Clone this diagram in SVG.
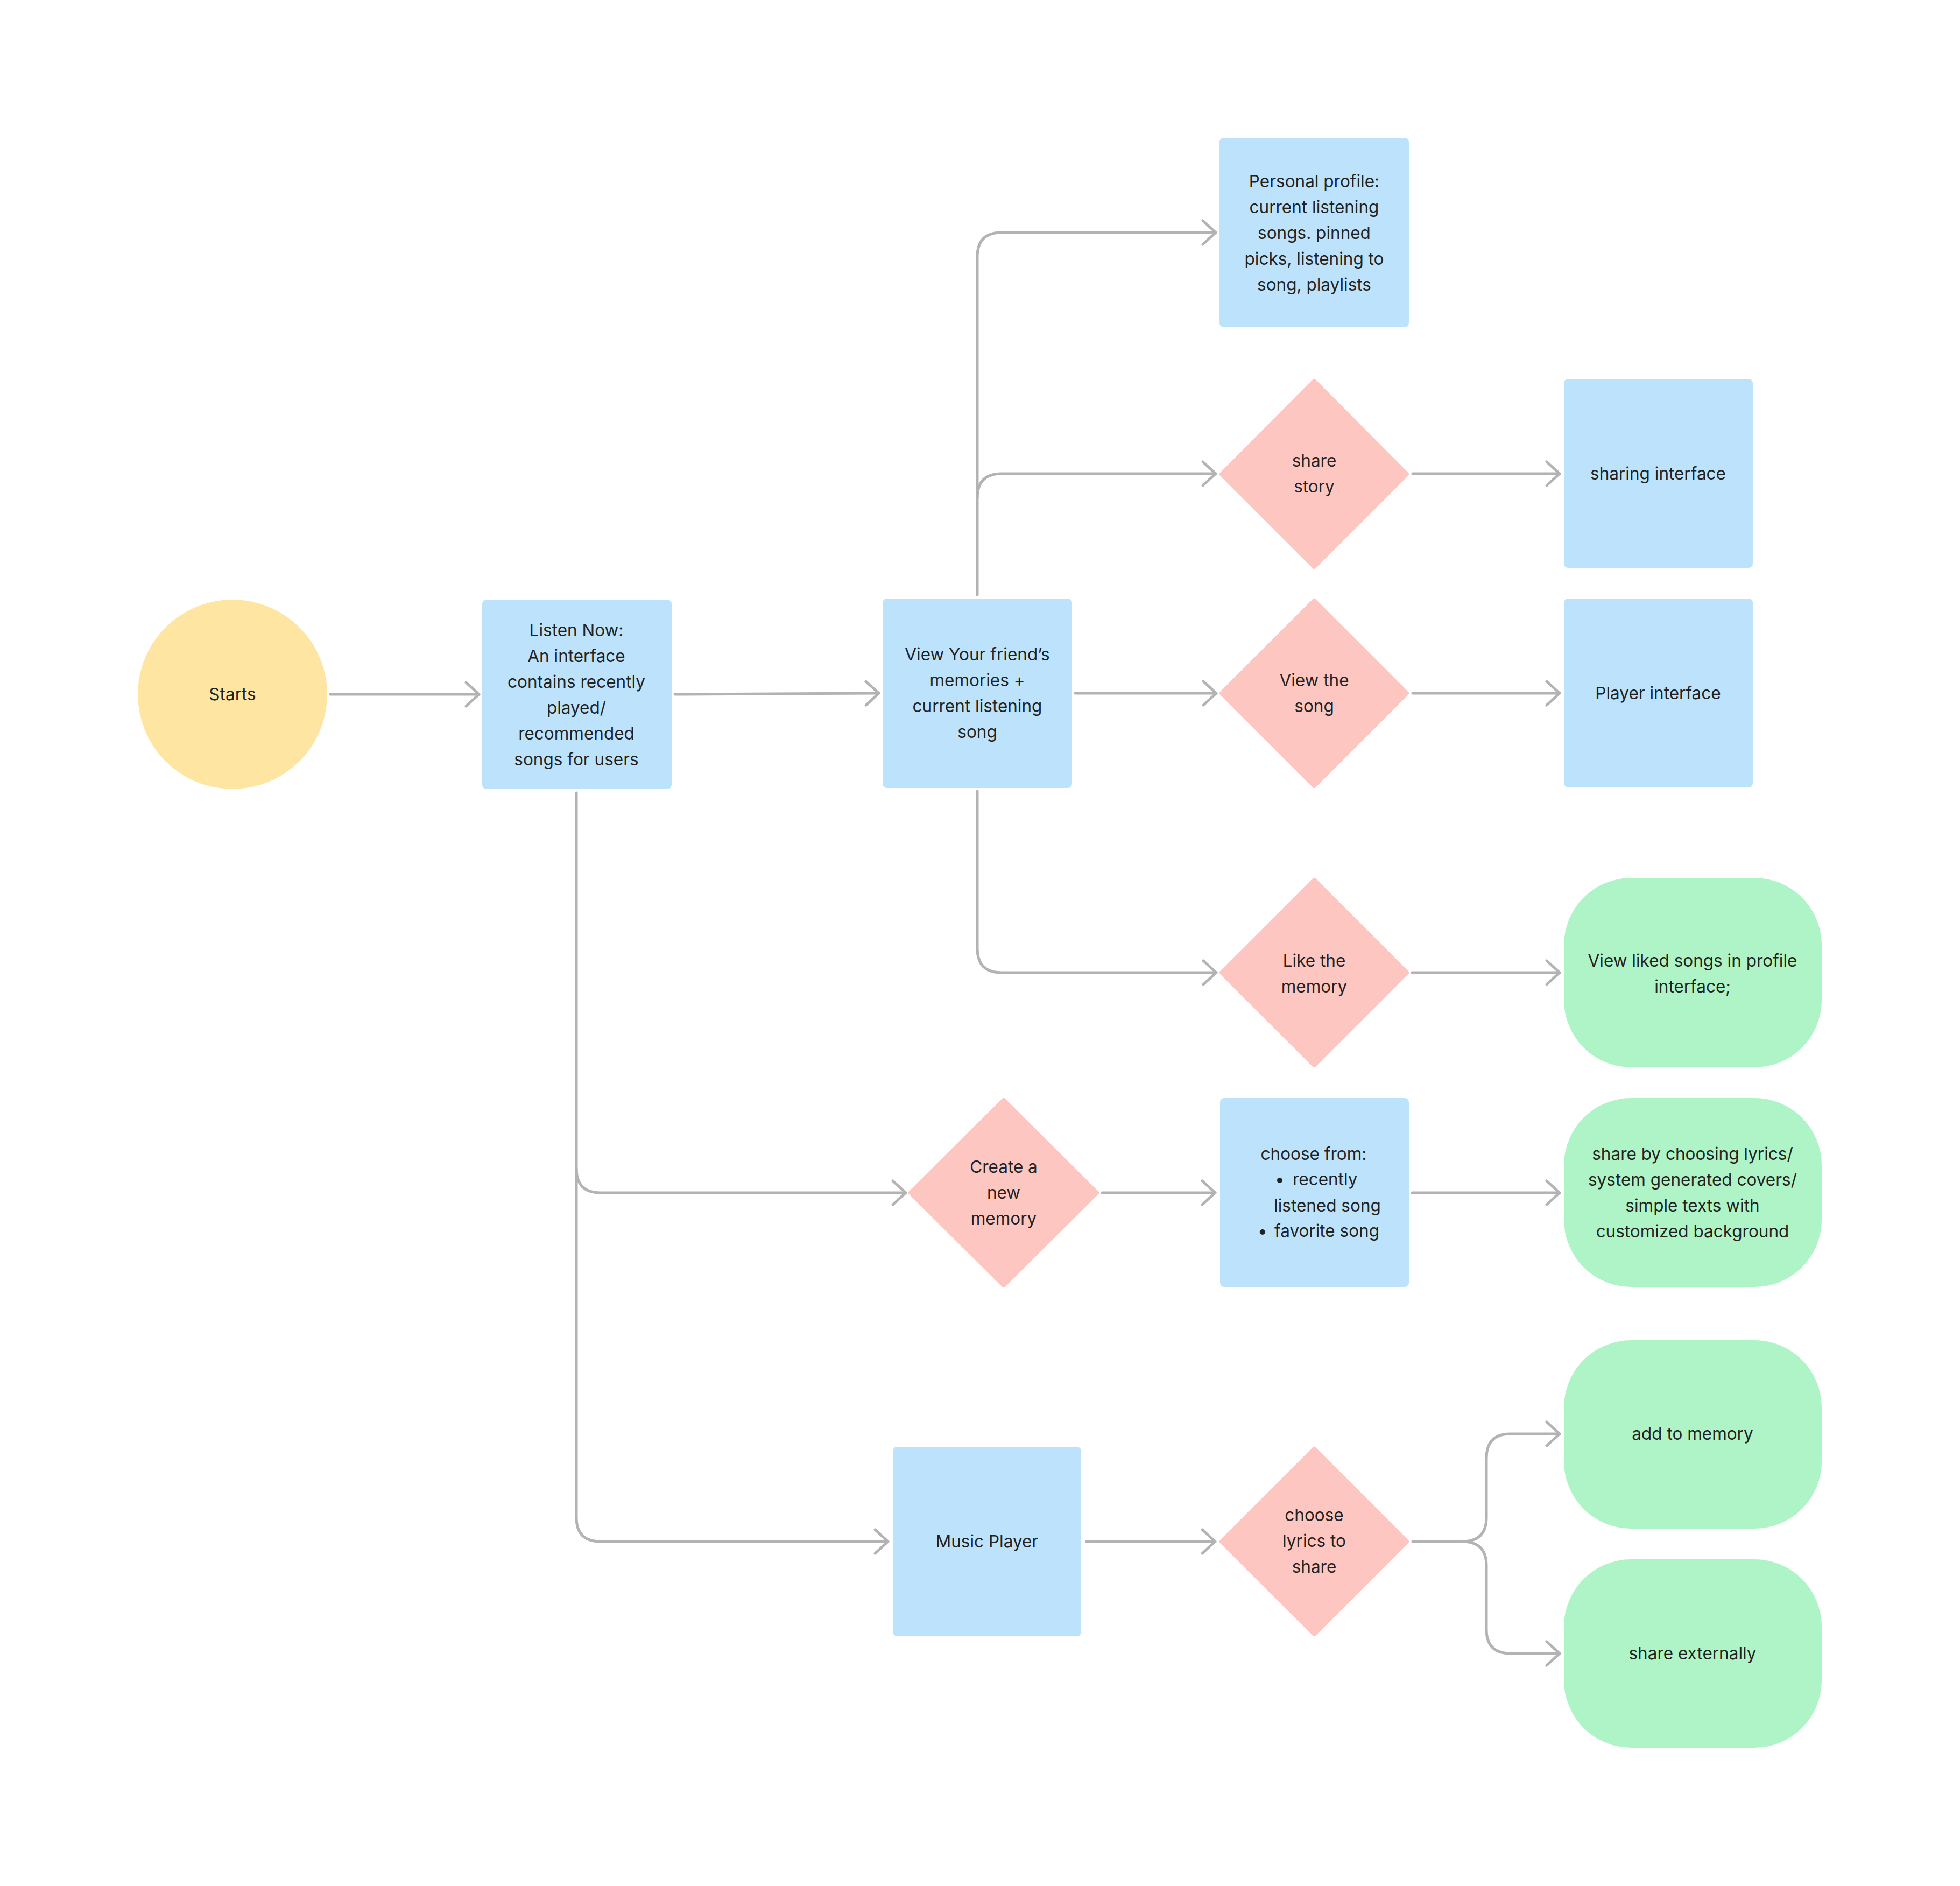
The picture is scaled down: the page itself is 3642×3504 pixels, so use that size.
<svg xmlns="http://www.w3.org/2000/svg" width="3642" height="3504" viewBox="0 0 3642 3504">
<style>
.t{font-family:Inter,"Noto Sans",sans-serif;font-size:31.5px;fill:#222222;text-anchor:middle}
.ts{font-family:Inter,"Noto Sans",sans-serif;font-size:31.5px;fill:#222222}
.box{fill:#BDE3FC}
.dia{fill:#FDC6C1;stroke:#FDC6C1;stroke-width:8;stroke-linejoin:round}
.term{fill:#AFF4C6}
.start{fill:#FEE6A2}
.c{fill:none;stroke:#B3B3B3;stroke-width:5;stroke-linecap:round;marker-end:url(#arr)}
</style>
<defs>
<marker id="arr" markerUnits="userSpaceOnUse" viewBox="-30 -30 40 60" refX="0" refY="0" markerWidth="40" markerHeight="60" orient="auto">
<path d="M-24,-22 L0,0 L-24,22" fill="none" stroke="#B3B3B3" stroke-width="5" stroke-linecap="round" stroke-linejoin="round"/>
</marker>
</defs>
<rect width="3642" height="3504" fill="#FFFFFF"/>
<g id="connectors">
<path class="c" d="M614,1290 H890"/>
<path class="c" d="M1254,1290 L1633,1288"/>
<path class="c" d="M1816,1105 V477 Q1816,432 1861,432 H2259"/>
<path class="c" d="M1816,925 Q1816,880 1861,880 H2259"/>
<path class="c" d="M1998,1288 H2260"/>
<path class="c" d="M1816,1470 V1762 Q1816,1807 1861,1807 H2260"/>
<path class="c" d="M2625,880 H2898"/>
<path class="c" d="M2625,1288 H2898"/>
<path class="c" d="M2624,1807 H2898"/>
<path class="c" d="M1071,1473 V2171 Q1071,2216 1116,2216 H1683"/>
<path class="c" d="M1071,2171 V2819 Q1071,2864 1116,2864 H1650"/>
<path class="c" d="M2048,2216 H2258"/>
<path class="c" d="M2624,2216 H2898"/>
<path class="c" d="M2019,2864 H2258"/>
<path class="c" d="M2625,2864 H2717 Q2762,2864 2762,2819 V2709 Q2762,2664 2807,2664 H2898"/>
<path class="c" d="M2717,2864 Q2762,2864 2762,2909 V3027 Q2762,3072 2807,3072 H2898"/>
</g>
<g id="starts">
<circle class="start" cx="432" cy="1290" r="176"/>
<text class="t" x="432" y="1301">Starts</text>
</g>
<g id="listen-now">
<rect class="box" x="896" y="1114" width="352" height="352" rx="8"/>
<text class="t" x="1071" y="1182">Listen Now:</text>
<text class="t" x="1071" y="1230">An interface</text>
<text class="t" x="1071" y="1278">contains recently</text>
<text class="t" x="1071" y="1326">played/</text>
<text class="t" x="1071" y="1374">recommended</text>
<text class="t" x="1071" y="1422">songs for users</text>
</g>
<g id="view-friends">
<rect class="box" x="1640" y="1112" width="352" height="352" rx="8"/>
<text class="t" x="1816" y="1227">View Your friend’s</text>
<text class="t" x="1816" y="1275">memories +</text>
<text class="t" x="1816" y="1323">current listening</text>
<text class="t" x="1816" y="1371">song</text>
</g>
<g id="personal-profile">
<rect class="box" x="2266" y="256" width="352" height="352" rx="8"/>
<text class="t" x="2442" y="348">Personal profile:</text>
<text class="t" x="2442" y="396">current listening</text>
<text class="t" x="2442" y="444">songs. pinned</text>
<text class="t" x="2442" y="492">picks, listening to</text>
<text class="t" x="2442" y="540">song, playlists</text>
</g>
<g id="share-story">
<polygon class="dia" points="2442,708 2614,881 2442,1053 2270,881"/>
<text class="t" x="2442" y="867">share</text>
<text class="t" x="2442" y="915">story</text>
</g>
<g id="sharing-interface">
<rect class="box" x="2906" y="704" width="351" height="351" rx="8"/>
<text class="t" x="3081" y="891">sharing interface</text>
</g>
<g id="view-the-song">
<polygon class="dia" points="2442,1116 2614,1288 2442,1460 2270,1288"/>
<text class="t" x="2442" y="1275">View the</text>
<text class="t" x="2442" y="1323">song</text>
</g>
<g id="player-interface">
<rect class="box" x="2906" y="1112" width="351" height="351" rx="8"/>
<text class="t" x="3081" y="1299">Player interface</text>
</g>
<g id="like-memory">
<polygon class="dia" points="2442,1635 2614,1807 2442,1979 2270,1807"/>
<text class="t" x="2442" y="1796">Like the</text>
<text class="t" x="2442" y="1844">memory</text>
</g>
<g id="view-liked">
<rect class="term" x="2906" y="1631" width="479" height="352" rx="125"/>
<text class="t" x="3145" y="1796">View liked songs in profile</text>
<text class="t" x="3145" y="1844">interface;</text>
</g>
<g id="create-memory">
<polygon class="dia" points="1865,2044 2038,2216 1865,2388 1692,2216"/>
<text class="t" x="1865" y="2179">Create a</text>
<text class="t" x="1865" y="2227">new</text>
<text class="t" x="1865" y="2275">memory</text>
</g>
<g id="choose-from">
<rect class="box" x="2267" y="2040" width="351" height="351" rx="8"/>
<text class="t" x="2441" y="2155">choose from:</text>
<text class="ts" x="2369" y="2202">•</text>
<text class="ts" x="2402" y="2202">recently</text>
<text class="ts" x="2367" y="2251">listened song</text>
<text class="ts" x="2337" y="2298">•</text>
<text class="ts" x="2368" y="2298">favorite song</text>
</g>
<g id="share-by-lyrics">
<rect class="term" x="2906" y="2040" width="479" height="351" rx="125"/>
<text class="t" x="3145" y="2155">share by choosing lyrics/</text>
<text class="t" x="3145" y="2203">system generated covers/</text>
<text class="t" x="3145" y="2251">simple texts with</text>
<text class="t" x="3145" y="2299">customized background</text>
</g>
<g id="music-player">
<rect class="box" x="1659" y="2688" width="350" height="352" rx="8"/>
<text class="t" x="1834" y="2875">Music Player</text>
</g>
<g id="choose-lyrics">
<polygon class="dia" points="2442,2692 2614,2864 2442,3036 2270,2864"/>
<text class="t" x="2442" y="2826">choose</text>
<text class="t" x="2442" y="2874">lyrics to</text>
<text class="t" x="2442" y="2922">share</text>
</g>
<g id="add-to-memory">
<rect class="term" x="2906" y="2490" width="479" height="350" rx="125"/>
<text class="t" x="3145" y="2675">add to memory</text>
</g>
<g id="share-externally">
<rect class="term" x="2906" y="2897" width="479" height="350" rx="125"/>
<text class="t" x="3145" y="3083">share externally</text>
</g>
</svg>
